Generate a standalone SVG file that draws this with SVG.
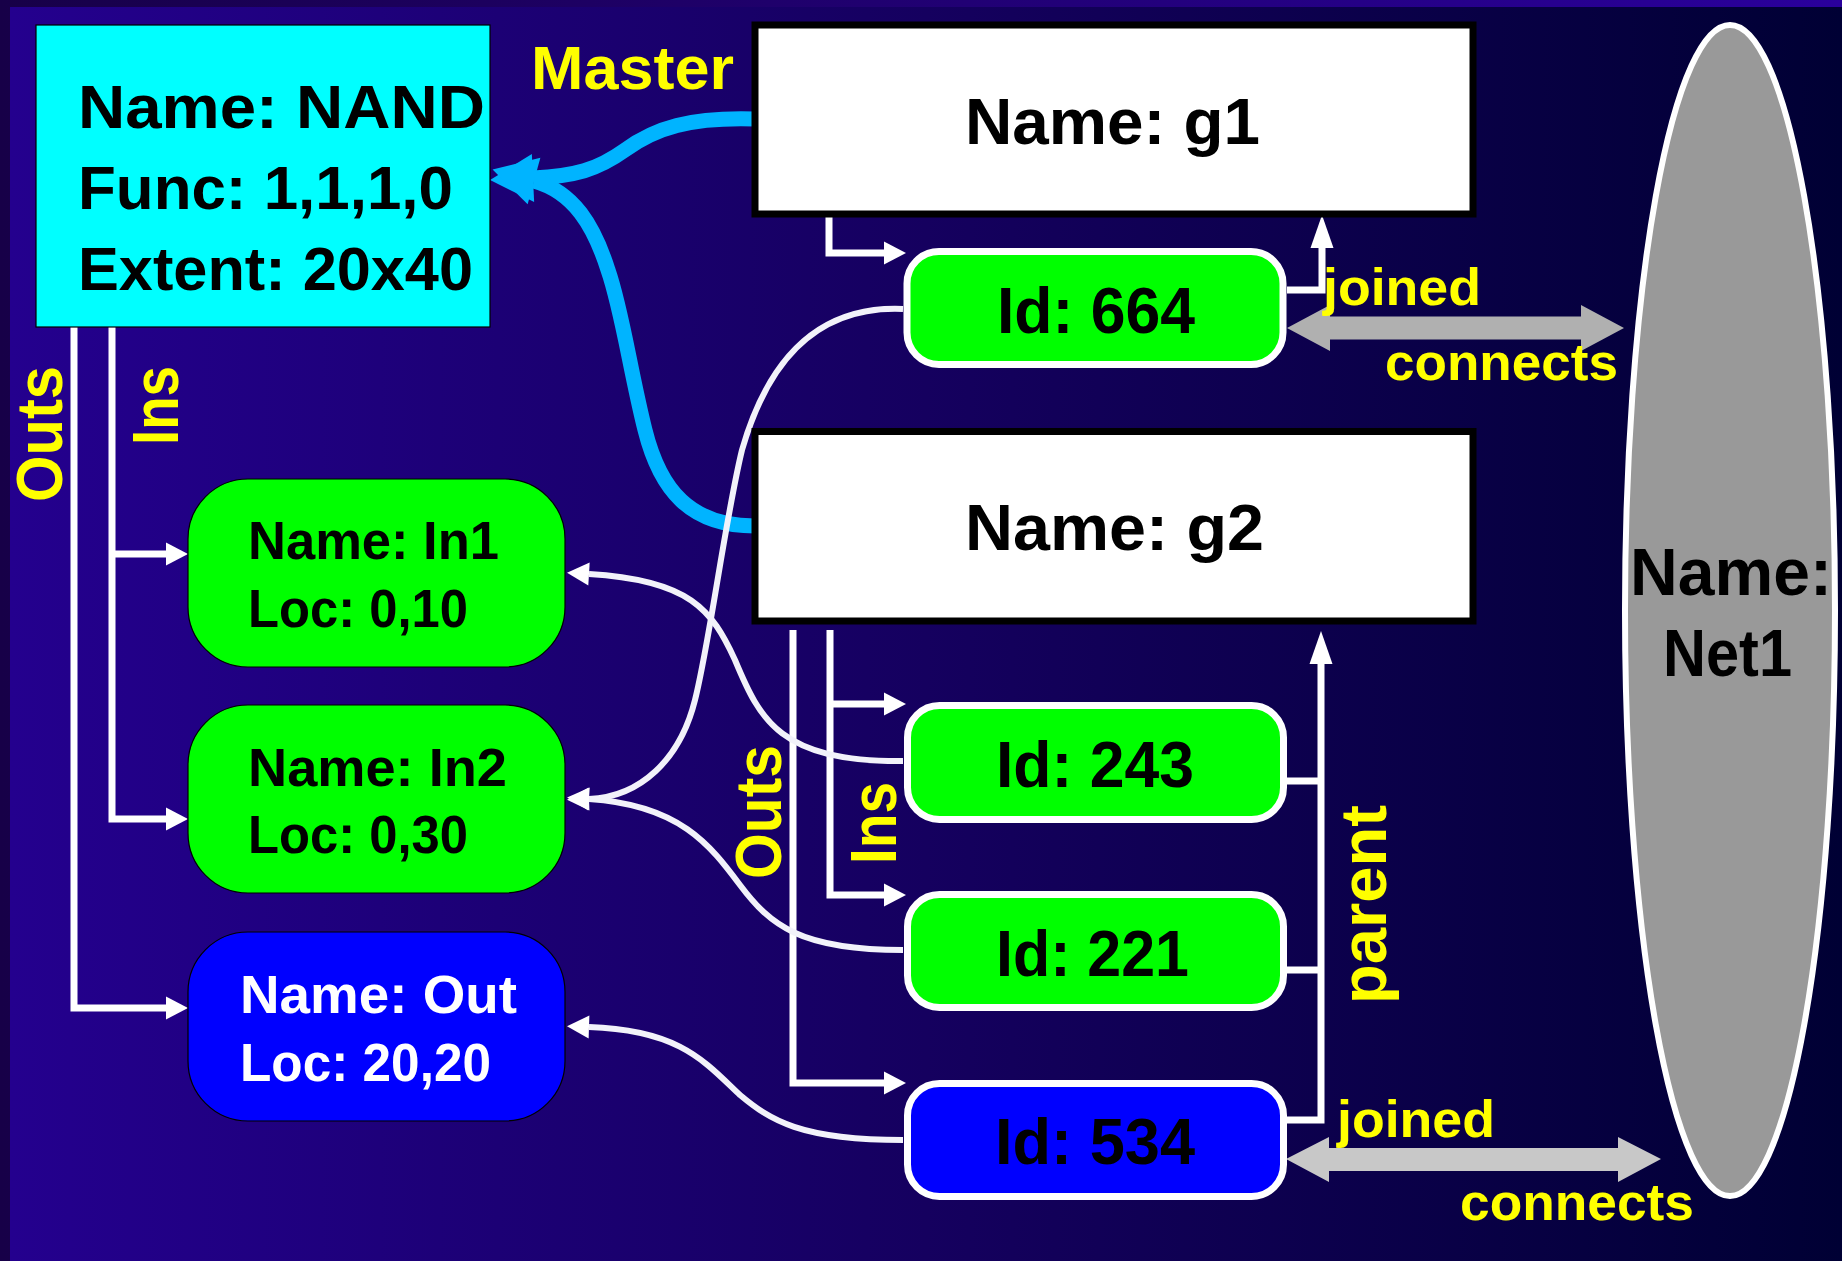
<svg xmlns="http://www.w3.org/2000/svg" width="1842" height="1261" viewBox="0 0 1842 1261">
  <defs>
    <linearGradient id="bgOuter" x1="0" y1="0" x2="1" y2="0">
      <stop offset="0" stop-color="#170048"/>
      <stop offset="1" stop-color="#2a009c"/>
    </linearGradient>
    <linearGradient id="bgInner" x1="0" y1="0" x2="1" y2="0">
      <stop offset="0" stop-color="#24008e"/>
      <stop offset="0.5" stop-color="#15005f"/>
      <stop offset="1" stop-color="#000034"/>
    </linearGradient>
    <marker id="headWhite" markerUnits="userSpaceOnUse" orient="auto" refX="0" refY="0" markerWidth="30" markerHeight="30" style="overflow:visible">
      <path d="M0,-11.5 L22,0 L0,11.5 Z" fill="#ffffff"/>
    </marker>
    <marker id="headParent" markerUnits="userSpaceOnUse" orient="auto" refX="0" refY="0" markerWidth="40" markerHeight="40" style="overflow:visible">
      <path d="M0,-11.5 L33,0 L0,11.5 Z" fill="#ffffff"/>
    </marker>
    <marker id="headMaster" markerUnits="userSpaceOnUse" orient="auto" refX="0" refY="0" markerWidth="60" markerHeight="60" style="overflow:visible">
      <path d="M0,-24 L43,0 L0,24 Z" fill="#00b4ff"/>
    </marker>
    <style>
      .t { font-family: "Liberation Sans", Arial, sans-serif; font-weight: bold; }
      .big { font-size: 64px; fill: #000; }
      .nand { font-size: 62px; fill: #000; }
      .net { font-size: 66px; fill: #000; }
      .mid { font-size: 53px; fill: #000; }
      .mid.w { fill: #ffffff; }
      .lbl { font-size: 52px; fill: #ffff00; }
      .lbl.master { font-size: 61px; }
      .rot { font-size: 64px; fill: #ffff00; }
      .wire { fill: none; stroke: #ffffff; stroke-width: 7; stroke-linejoin: miter; }
      .curve { fill: none; stroke: #f2f2fa; stroke-width: 6; }
      .masterline { fill: none; stroke: #00b4ff; stroke-width: 15; }
      .pin { stroke: #ffffff; stroke-width: 7; }
      .port { stroke: #000000; stroke-width: 1.2; }
      .inst { fill: #ffffff; stroke: #000000; stroke-width: 7; }
    </style>
  </defs>

  <!-- backdrop -->
  <rect x="0" y="0" width="1842" height="1261" fill="url(#bgOuter)"/>
  <rect x="10" y="7" width="1832" height="1254" fill="url(#bgInner)"/>

  <g id="connectors">
    <!-- master references -->
    <path class="masterline" d="M755,119 C690,117 655,128 625,150 C597,170 575,176 533,178" marker-end="url(#headMaster)"/>
    <path class="masterline" d="M755,526 C690,526 660,490 645,430 C630,370 622,310 608,270 C594,226 574,192 534,181" marker-end="url(#headMaster)"/>

    <!-- NAND port lists -->
    <path class="wire" d="M74,327 V1008 H166" marker-end="url(#headWhite)"/>
    <path class="wire" d="M112,327 V819 H166" marker-end="url(#headWhite)"/>
    <path class="wire" d="M112,554 H166" marker-end="url(#headWhite)"/>

    <!-- g1 pins and parent -->
    <path class="wire" d="M829,217 V253 H884" marker-end="url(#headWhite)"/>
    <path class="wire" d="M1287,290 H1322 V248" marker-end="url(#headParent)"/>

    <!-- g2 pins and parent -->
    <path class="wire" d="M793,630 V1083 H884" marker-end="url(#headWhite)"/>
    <path class="wire" d="M830,630 V895 H884" marker-end="url(#headWhite)"/>
    <path class="wire" d="M830,704 H884" marker-end="url(#headWhite)"/>
    <path class="wire" d="M1287,1120 H1321 V664" marker-end="url(#headParent)"/>
    <path class="wire" d="M1287,781 H1321"/>
    <path class="wire" d="M1287,970 H1321"/>

    <!-- pin to port links -->
    <path class="curve" d="M903,309 C810,305 765,370 742,450 C725,520 710,640 695,700 C680,760 640,797 589,799" marker-end="url(#headWhite)"/>
    <path class="curve" d="M903,761 C780,762 760,720 735,660 C712,610 690,580 589,574" marker-end="url(#headWhite)"/>
    <path class="curve" d="M903,950 C800,950 770,925 740,885 C710,845 680,805 589,799" marker-end="url(#headWhite)"/>
    <path class="curve" d="M903,1140 C800,1140 770,1120 740,1095 C705,1062 680,1030 589,1027" marker-end="url(#headWhite)"/>

    <!-- net connections -->
    <polygon fill="#b0b0b0" points="1287,328 1330,305 1330,316.5 1581,316.5 1581,305 1624,328 1581,351 1581,339.5 1330,339.5 1330,351"/>
    <polygon fill="#c8c8c8" points="1286,1159 1329,1137 1329,1148 1618,1148 1618,1137 1661,1159 1618,1182 1618,1171 1329,1171 1329,1182"/>
  </g>

  <g id="nand">
    <rect x="36" y="25" width="454" height="302" fill="#00ffff" stroke="#000000" stroke-width="1.2"/>
    <text class="t nand" x="78" y="128" textLength="407" lengthAdjust="spacingAndGlyphs">Name: NAND</text>
    <text class="t nand" x="78" y="209" textLength="375" lengthAdjust="spacingAndGlyphs">Func: 1,1,1,0</text>
    <text class="t nand" x="78" y="290" textLength="395" lengthAdjust="spacingAndGlyphs">Extent: 20x40</text>
  </g>

  <g id="in1">
    <rect class="port" x="188" y="479" width="377" height="188" rx="60" ry="60" fill="#00ff00"/>
    <text class="t mid" x="248" y="559" textLength="251" lengthAdjust="spacingAndGlyphs">Name: In1</text>
    <text class="t mid" x="248" y="627" textLength="220" lengthAdjust="spacingAndGlyphs">Loc: 0,10</text>
  </g>

  <g id="in2">
    <rect class="port" x="188" y="705" width="377" height="188" rx="60" ry="60" fill="#00ff00"/>
    <text class="t mid" x="248" y="786" textLength="259" lengthAdjust="spacingAndGlyphs">Name: In2</text>
    <text class="t mid" x="248" y="853" textLength="220" lengthAdjust="spacingAndGlyphs">Loc: 0,30</text>
  </g>

  <g id="out">
    <rect class="port" x="188" y="932" width="377" height="189" rx="60" ry="60" fill="#0000ff"/>
    <text class="t mid w" x="240" y="1013" textLength="277" lengthAdjust="spacingAndGlyphs">Name: Out</text>
    <text class="t mid w" x="240" y="1081" textLength="251" lengthAdjust="spacingAndGlyphs">Loc: 20,20</text>
  </g>

  <g id="g1">
    <rect class="inst" x="755" y="25" width="718" height="189"/>
    <text class="t big" x="965" y="144" textLength="295" lengthAdjust="spacingAndGlyphs">Name: g1</text>
  </g>

  <g id="g2">
    <rect class="inst" x="755" y="431.5" width="718" height="189.5"/>
    <text class="t big" x="965" y="550" textLength="299" lengthAdjust="spacingAndGlyphs">Name: g2</text>
  </g>

  <g id="pin664">
    <rect class="pin" x="907" y="251.5" width="376" height="113" rx="32" ry="32" fill="#00ff00"/>
    <text class="t big" x="997" y="333" textLength="198" lengthAdjust="spacingAndGlyphs">Id: 664</text>
  </g>

  <g id="pin243">
    <rect class="pin" x="907.5" y="705.5" width="376" height="114" rx="32" ry="32" fill="#00ff00"/>
    <text class="t big" x="996" y="787" textLength="198" lengthAdjust="spacingAndGlyphs">Id: 243</text>
  </g>

  <g id="pin221">
    <rect class="pin" x="907.5" y="894.5" width="376" height="113" rx="32" ry="32" fill="#00ff00"/>
    <text class="t big" x="996" y="976" textLength="193" lengthAdjust="spacingAndGlyphs">Id: 221</text>
  </g>

  <g id="pin534">
    <rect class="pin" x="907.5" y="1083.5" width="376" height="113" rx="32" ry="32" fill="#0000ff"/>
    <text class="t big" x="995" y="1164" textLength="200" lengthAdjust="spacingAndGlyphs">Id: 534</text>
  </g>

  <g id="net1">
    <ellipse cx="1730" cy="610.5" rx="105" ry="585.5" fill="#999999" stroke="#ffffff" stroke-width="6"/>
    <text class="t net" x="1630" y="595" textLength="202" lengthAdjust="spacingAndGlyphs">Name:</text>
    <text class="t net" x="1663" y="676" textLength="129" lengthAdjust="spacingAndGlyphs">Net1</text>
  </g>

  <g id="connector-labels">
    <text class="t lbl master" x="531" y="89" textLength="203" lengthAdjust="spacingAndGlyphs">Master</text>
    <text class="t lbl" x="1323" y="305" textLength="158" lengthAdjust="spacingAndGlyphs">joined</text>
    <text class="t lbl" x="1385" y="380" textLength="233" lengthAdjust="spacingAndGlyphs">connects</text>
    <text class="t lbl" x="1337" y="1137" textLength="158" lengthAdjust="spacingAndGlyphs">joined</text>
    <text class="t lbl" x="1460" y="1220" textLength="234" lengthAdjust="spacingAndGlyphs">connects</text>
    <text class="t rot" transform="translate(62,502) rotate(-90)" textLength="136" lengthAdjust="spacingAndGlyphs">Outs</text>
    <text class="t rot" transform="translate(178,445) rotate(-90)" textLength="79" lengthAdjust="spacingAndGlyphs">Ins</text>
    <text class="t rot" transform="translate(781,879) rotate(-90)" textLength="134" lengthAdjust="spacingAndGlyphs">Outs</text>
    <text class="t rot" transform="translate(896,864) rotate(-90)" textLength="82" lengthAdjust="spacingAndGlyphs">Ins</text>
    <text class="t rot" transform="translate(1386,1004) rotate(-90)" textLength="199" lengthAdjust="spacingAndGlyphs">parent</text>
  </g>
</svg>
